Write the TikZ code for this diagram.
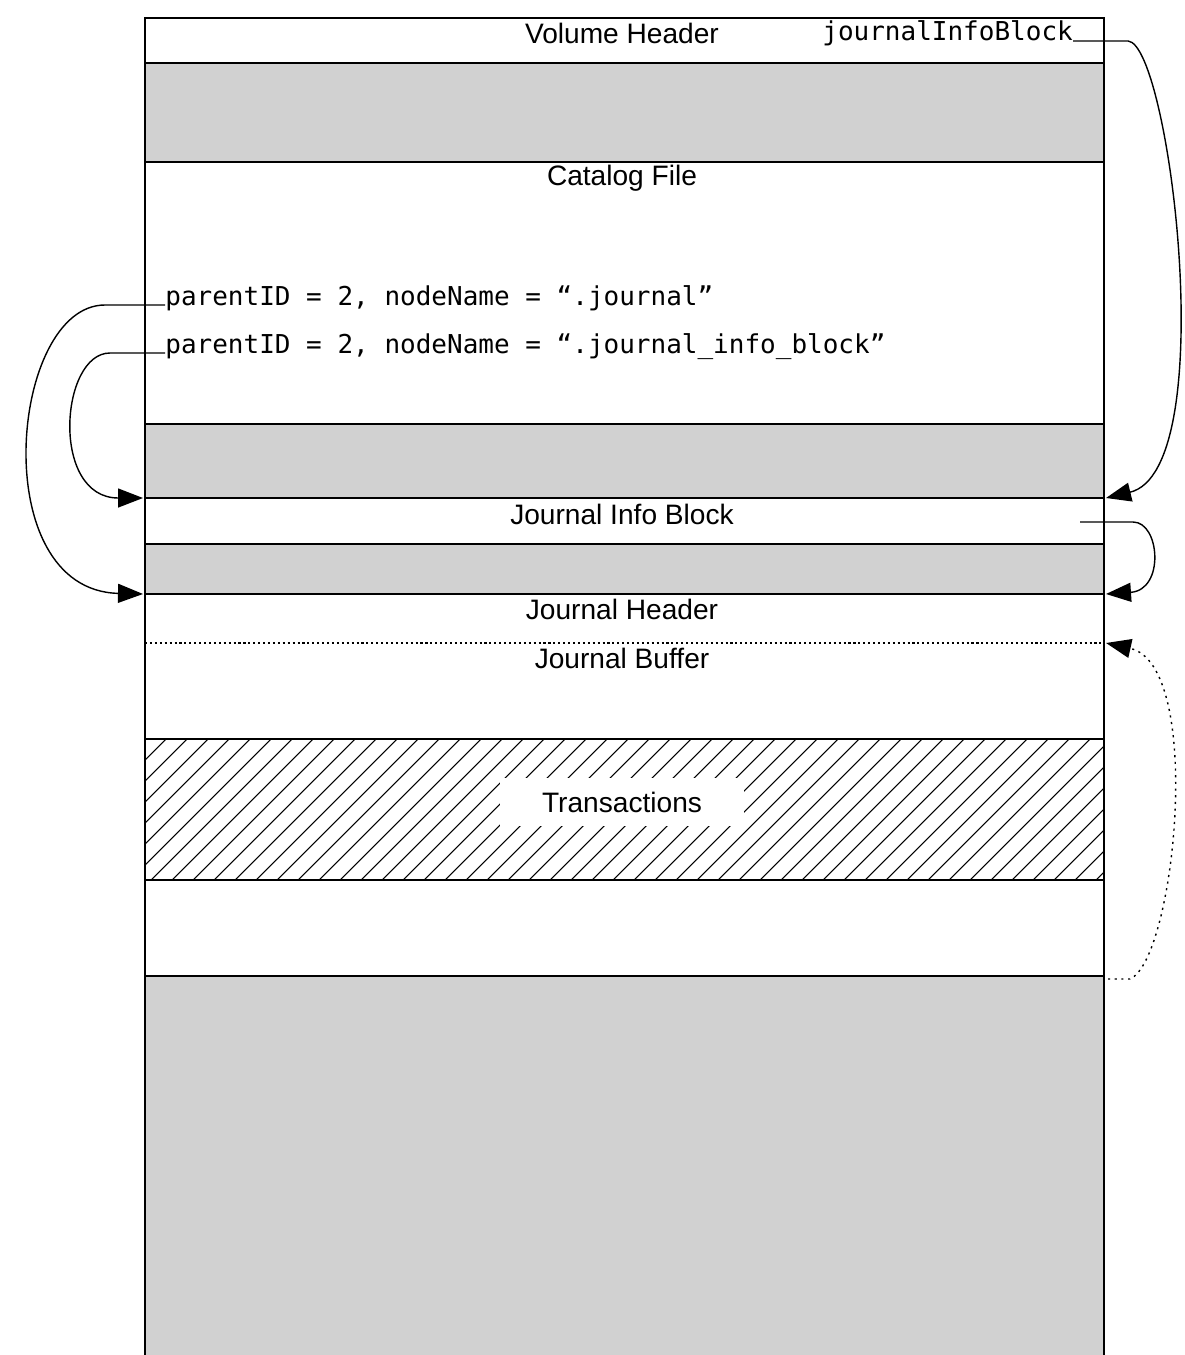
\documentclass[tikz,border=0pt]{standalone}
\usepackage{fontspec}
\setmainfont{Liberation Sans}
\newfontfamily\codefont{DejaVu Sans Mono}
\usetikzlibrary{positioning}
\usetikzlibrary{arrows.meta,calc}
\tikzstyle{bandline}=[draw,line width=1.1pt]
\tikzstyle{greyband}=[fill=black!18]
\tikzstyle{title}=[font=\fontsize{16}{18}\selectfont,inner sep=0pt]
\tikzstyle{code}=[font=\codefont\fontsize{14.8}{17}\selectfont,inner sep=0pt]
\tikzstyle{link}=[draw,line width=0.8pt,-{Triangle[length=0.5cm,width=0.38cm]}]
\tikzstyle{dotlink}=[link,dash pattern=on 1.2pt off 2.6pt]

\begin{document}
\begin{tikzpicture}[x=0.02cm,y=-0.02cm]
    \useasboundingbox (0,0) rectangle (1184,1355);

    % Grey (unused) regions of the volume first
    \foreach \top/\bot in {63/162, 424/498, 544/594, 976/1355}
        \path[greyband] (145,\top) rectangle (1104,\bot);

    % Hatched transaction area
    \begin{scope}
        \clip (145,739) rectangle (1104,880);
        \foreach \i in {0,...,53}
            \draw[line width=0.6pt] (4+21*\i,880) -- ++(141,-141);
    \end{scope}

    % Then the band edges
    \foreach \y in {18, 63, 162, 424, 498, 544, 594, 739, 880, 976}
        \path[bandline] (145,\y) -- (1104,\y);
    \path[bandline] (145,1355) -- (145,18) -- (1104,18) -- (1104,1355);
    \draw[line width=0.8pt, dash pattern=on 1.2pt off 1.6pt] (145,643) -- (1104,643);

    % Labels of the regions
    \foreach \pos/\name/\label in {{(622,33)/vhead/Volume Header}, {(622,178)/catalog/Catalog File},
                                   {(622,514)/jibhead/Journal Info Block}, {(622,609)/jhead/Journal Header},
                                   {(622,658)/jbuf/Journal Buffer}}
        \node[title] (\name) at \pos {\label};
    \node[title,fill=white,inner xsep=0.84cm,inner ysep=0.27cm] (trans) at (622,802) {Transactions};

    \node[code,anchor=base west] (jiblabel) at (822,41) {journalInfoBlock};
    \node[code,anchor=base west] (jrnl) at (165,305) {parentID = 2, nodeName = “.journal”};
    \node[code,anchor=base west] (jrnlinfo) at (165,353) {parentID = 2, nodeName = “.journal\_info\_block”};

    % Ends of the pointers on the column edges
    \foreach \x/\y/\name in {1080/522/jibout, 1108/979/bufend,
                             1106/498/jibR, 1106/594/jhR, 1106/643/jbR,
                             143/498/jibL, 143/594/jhL}
        \coordinate (\name) at (\x,\y);

    % Pointers
    \draw[link] (jiblabel.base east) -- ++(55,0) .. controls (1170,45) and (1222,470) .. (jibR);
    \draw[link] (jibout) -- ++(53,0) .. controls (1160,522) and (1165,590) .. (jhR);
    \draw[dotlink] (bufend) -- ++(22,0) .. controls (1175,960) and (1205,665) .. (jbR);
    \draw[link] (jrnl.base west) -- ++(-60,0) .. controls (10,305) and (-15,590) .. (jhL);
    \draw[link] (jrnlinfo.base west) -- ++(-55,0) .. controls (60,353) and (50,498) .. (jibL);
\end{tikzpicture}
\end{document}
